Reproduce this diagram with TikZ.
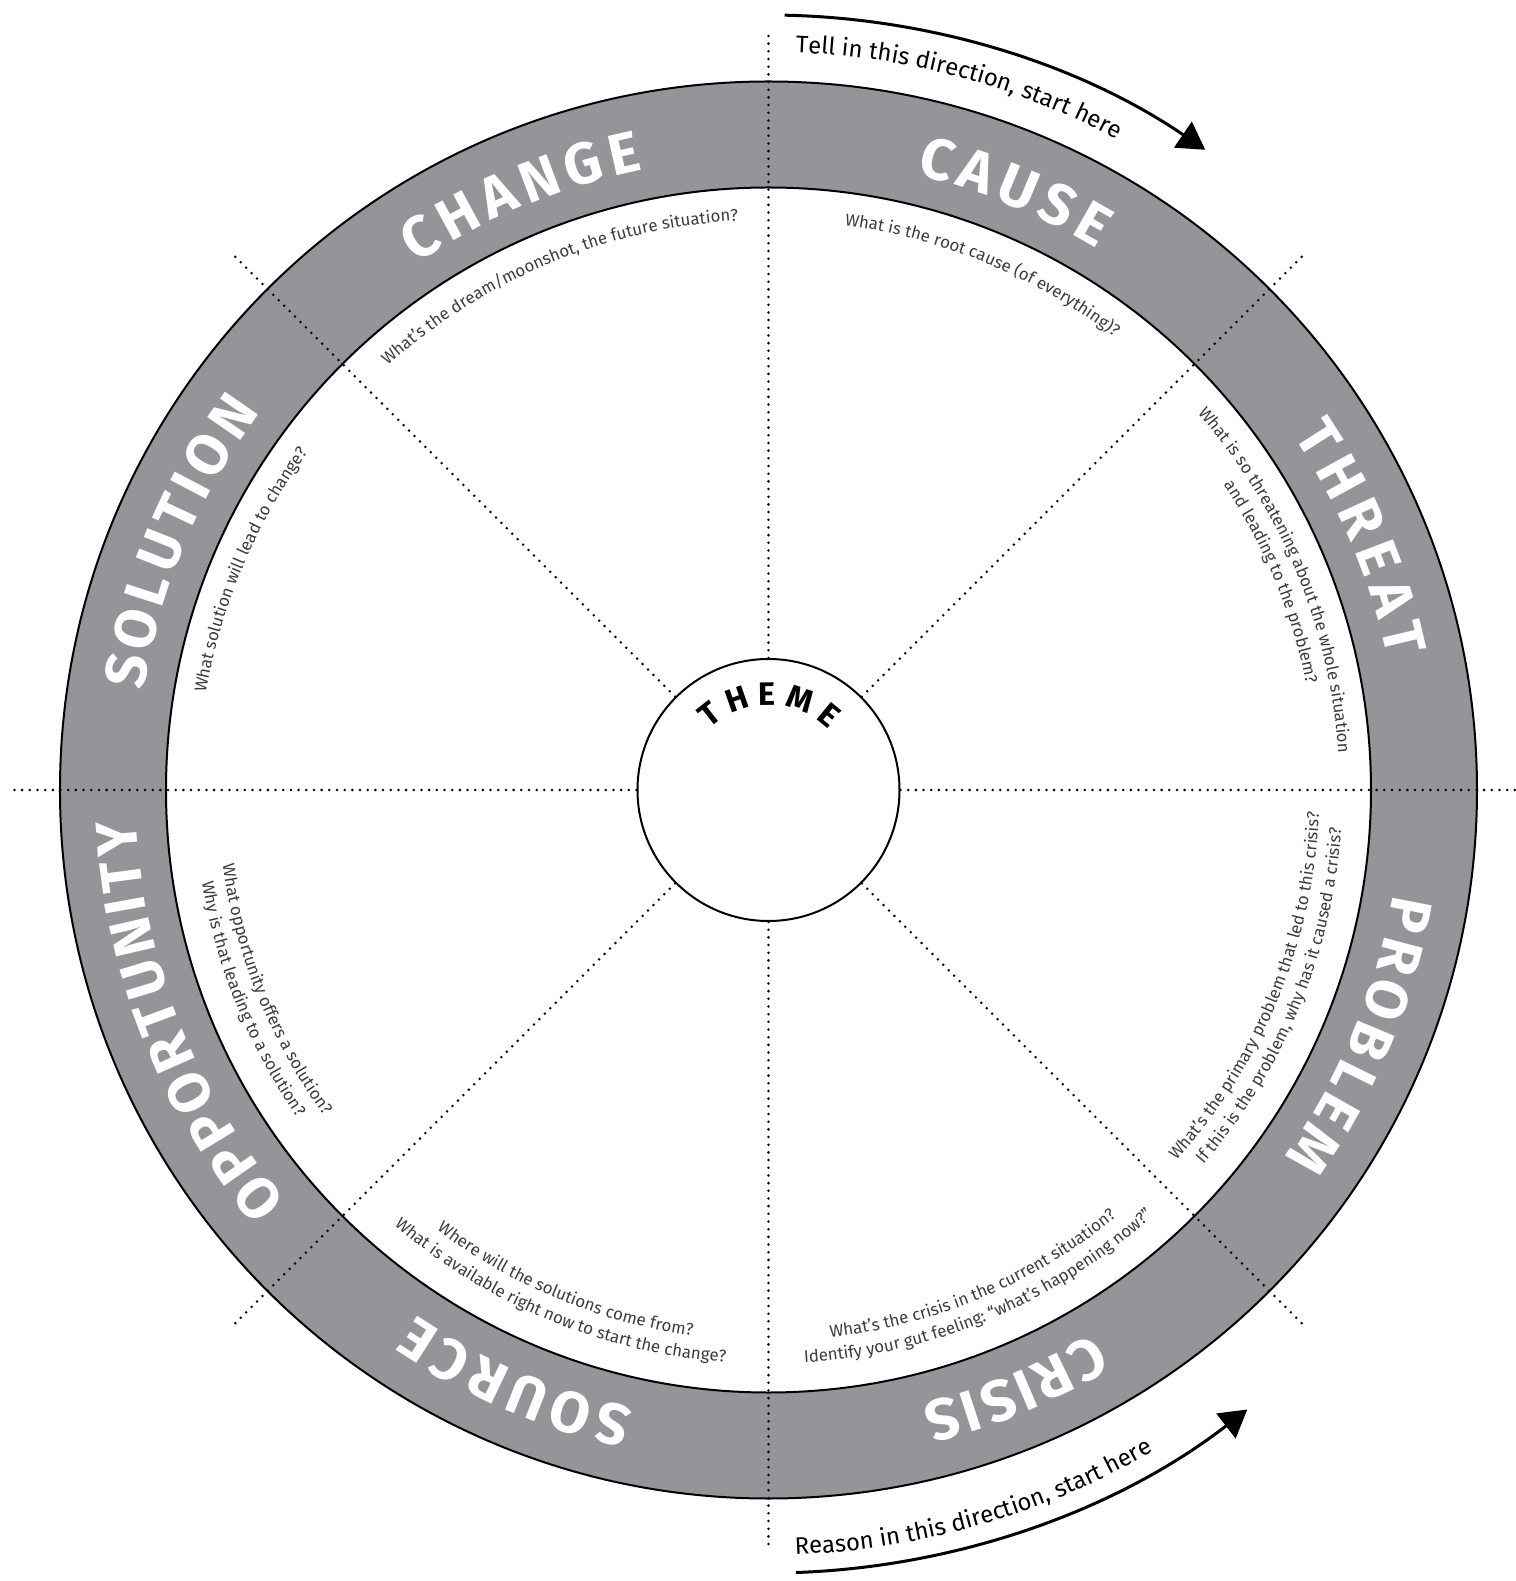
\documentclass[tikz,border=0pt]{standalone}
\usepackage{fontspec}
\setmainfont{Fira Sans}
\usetikzlibrary{decorations.text,arrows.meta}
\definecolor{ringgray}{RGB}{147,149,152}
\definecolor{askgray}{RGB}{60,60,60}
\newcommand{\segfont}{\bfseries\fontsize{33}{33}\selectfont}
\newcommand{\themefont}{\bfseries\fontsize{18.5}{18.5}\selectfont}
\newcommand{\askfont}{\fontsize{9.6}{11}\selectfont}
\newcommand{\tellfont}{\fontsize{13.6}{16}\selectfont}

\begin{document}
\begin{tikzpicture}[x=0.2mm,y=0.2mm]
\tikzstyle{every node}+=[inner sep=0pt]
\tikzstyle{dotline}=[black, line width=1.6pt, line cap=round, dash pattern=on 0pt off 4.37pt]
\tikzstyle{seglabel}=[decorate, decoration={text along path, text align=fit to path, text color=white}]
\tikzstyle{ask}=[decorate, decoration={text along path, text align=center, text color=askgray}]
\tikzstyle{tell}=[decorate, decoration={text along path, text align=left, text color=black}]
\tikzstyle{turn}=[black, line width=0.6mm, -{Triangle[length=5.4mm, width=6.2mm]}]
\useasboundingbox (-768.5,-791) rectangle (747.5,790);
% ring
\fill [ringgray, even odd rule] (0,0) circle (708.5) (0,0) circle (602.5);
\draw [black, line width=0.4mm] (0,0) circle (708.5);
\draw [black, line width=0.4mm] (0,0) circle (602.5);
\node [circle, draw=black, line width=0.4mm, fill=white, minimum size=52.4mm] (theme) at (0,0) {};
% dotted spokes
\draw [dotline] (theme.0) -- (0:757);
\draw [dotline] (theme.45) -- (45:757);
\draw [dotline] (theme.90) -- (90:755);
\draw [dotline] (theme.135) -- (135:757);
\draw [dotline] (theme.180) -- (180:755.5);
\draw [dotline] (theme.225) -- (225:757);
\draw [dotline] (theme.270) -- (270:757);
\draw [dotline] (theme.315) -- (315:757);
% segment names
\path [seglabel, decoration={text={|\segfont|CAUSE}}] (76.5:633) arc [start angle=76.5, end angle=58.8, radius=633];
\path [seglabel, decoration={text={|\segfont|THREAT}}] (34:633) arc [start angle=34, end angle=12, radius=633];
\path [seglabel, decoration={text={|\segfont|PROBLEM}}] (-9.5:633) arc [start angle=-9.5, end angle=-35.5, radius=633];
\path [seglabel, decoration={text={|\segfont|CRISIS}}] (-59.2:633) arc [start angle=-59.2, end angle=-76, radius=633];
\path [seglabel, decoration={text={|\segfont|SOURCE}}] (-102.3:633) arc [start angle=-102.3, end angle=-123.9, radius=633];
\path [seglabel, decoration={text={|\segfont|OPPORTUNITY}}] (-139.5:633) arc [start angle=-139.5, end angle=-177.3, radius=633];
\path [seglabel, decoration={text={|\segfont|SOLUTION}}] (171:633) arc [start angle=171, end angle=143.4, radius=633];
\path [seglabel, decoration={text={|\segfont|CHANGE}}] (123.8:633) arc [start angle=123.8, end angle=101.4, radius=633];
% centre
\path [decorate, decoration={text along path, text={|\themefont|THEME}, text align=fit to path}] (134:85) arc [start angle=134, end angle=45, radius=85];
% questions
\path [ask, decoration={text={|\askfont|What is the root cause (of everything)?}}] (97.5:570) arc [start angle=97.5, end angle=37.5, radius=570];
\path [ask, decoration={text={|\askfont|What is so threatening about the whole situation}}] (52.5:571) arc [start angle=52.5, end angle=-7.5, radius=571];
\path [ask, decoration={text={|\askfont|and leading to the problem?}}] (52.5:548) arc [start angle=52.5, end angle=-7.5, radius=548];
\path [ask, decoration={text={|\askfont|What's the primary problem that led to this crisis?}}] (-52.3:551) arc [start angle=-52.3, end angle=7.7, radius=551];
\path [ask, decoration={text={|\askfont|If this is the problem, why has it caused a crisis?}}] (-52.3:574) arc [start angle=-52.3, end angle=7.7, radius=574];
\path [ask, decoration={text={|\askfont|What’s the crisis in the current situation?}}] (-97.2:551) arc [start angle=-97.2, end angle=-37.2, radius=551];
\path [ask, decoration={text={|\askfont|Identify your gut feeling: “what’s happening now?”}}] (-97.2:574) arc [start angle=-97.2, end angle=-37.2, radius=574];
\path [ask, decoration={text={|\askfont|Where will the solutions come from?}}] (-142.5:551) arc [start angle=-142.5, end angle=-82.5, radius=551];
\path [ask, decoration={text={|\askfont|What is available right now to start the change?}}] (-142.5:574) arc [start angle=-142.5, end angle=-82.5, radius=574];
\path [ask, decoration={text={|\askfont|What opportunity offers a solution?}}] (-188:551) arc [start angle=-188, end angle=-128, radius=551];
\path [ask, decoration={text={|\askfont|Why is that leading to a solution?}}] (-188:574) arc [start angle=-188, end angle=-128, radius=574];
\path [ask, decoration={text={|\askfont|What solution will lead to change?}}] (187:571) arc [start angle=187, end angle=127, radius=571];
\path [ask, decoration={text={|\askfont|What’s the dream/moonshot, the future situation?}}] (142.5:570) arc [start angle=142.5, end angle=82.5, radius=570];
% reading arrows
\draw [turn] (88.8:775) arc [start angle=88.8, end angle=55.7, radius=775];
\path [tell, decoration={text={|\tellfont|Tell in this direction, start here}}] (87.9:738) arc [start angle=87.9, end angle=50, radius=738];
\draw [turn] (-88:783) arc [start angle=-88, end angle=-52.3, radius=783];
\path [tell, decoration={text={|\tellfont|Reason in this direction, start here}}] (-88:765) arc [start angle=-88, end angle=-50, radius=765];
\end{tikzpicture}
\end{document}
